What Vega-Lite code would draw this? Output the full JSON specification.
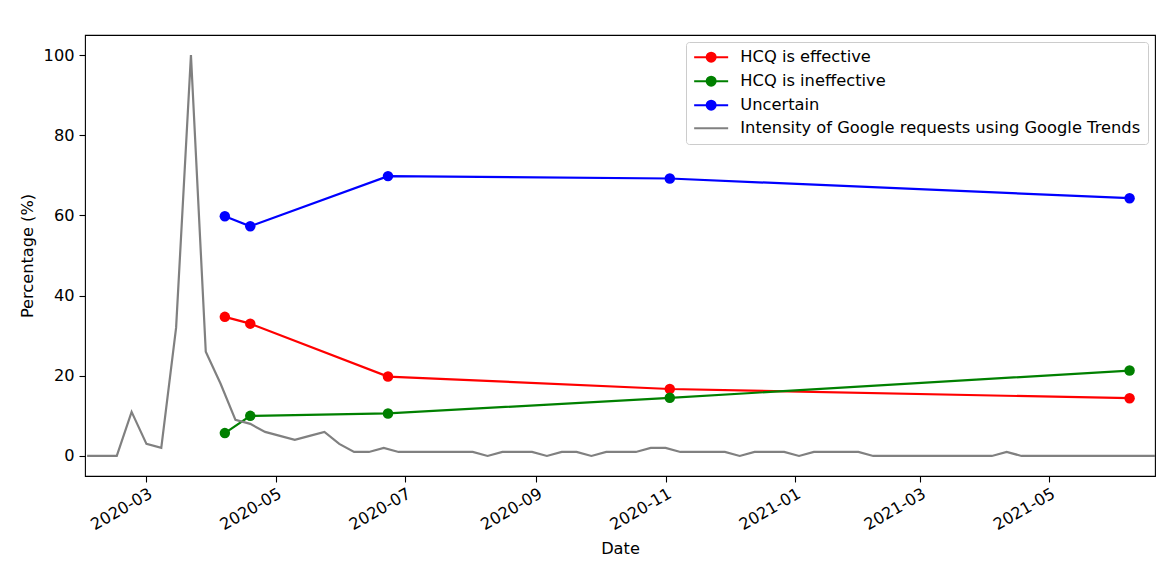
{
  "$schema": "https://vega.github.io/schema/vega-lite/v6.json",
  "autosize": {"type": "none"},
  "width": 1070,
  "height": 441,
  "padding": {"left": 85, "top": 35, "right": 4, "bottom": 107},
  "background": "white",
  "config": {
    "font": "DejaVu Sans",
    "view": {"stroke": "black", "strokeWidth": 1.1},
    "axis": {
      "labelFont": "DejaVu Sans",
      "titleFont": "DejaVu Sans",
      "labelFontSize": 16.2,
      "titleFontSize": 16.2,
      "titleFontWeight": "normal",
      "labelColor": "black",
      "titleColor": "black",
      "tickColor": "black",
      "tickSize": 6,
      "tickWidth": 1.1,
      "domain": false,
      "grid": false
    }
  },
  "datasets": {
    "survey": [
      {"date": "2020-04-07", "series": "HCQ is effective", "value": 34.7},
      {"date": "2020-04-19", "series": "HCQ is effective", "value": 33.0},
      {"date": "2020-06-23", "series": "HCQ is effective", "value": 19.8},
      {"date": "2020-11-03", "series": "HCQ is effective", "value": 16.7},
      {"date": "2021-06-08", "series": "HCQ is effective", "value": 14.4},
      {"date": "2020-04-07", "series": "HCQ is ineffective", "value": 5.7},
      {"date": "2020-04-19", "series": "HCQ is ineffective", "value": 10.0},
      {"date": "2020-06-23", "series": "HCQ is ineffective", "value": 10.6},
      {"date": "2020-11-03", "series": "HCQ is ineffective", "value": 14.5},
      {"date": "2021-06-08", "series": "HCQ is ineffective", "value": 21.3},
      {"date": "2020-04-07", "series": "Uncertain", "value": 59.8},
      {"date": "2020-04-19", "series": "Uncertain", "value": 57.3},
      {"date": "2020-06-23", "series": "Uncertain", "value": 69.8},
      {"date": "2020-11-03", "series": "Uncertain", "value": 69.2},
      {"date": "2021-06-08", "series": "Uncertain", "value": 64.3}
    ],
    "trends": [
      {"date": "2020-02-02", "value": 0}, {"date": "2020-02-09", "value": 0}, {"date": "2020-02-16", "value": 0},
      {"date": "2020-02-23", "value": 11}, {"date": "2020-03-01", "value": 3}, {"date": "2020-03-08", "value": 2},
      {"date": "2020-03-15", "value": 32}, {"date": "2020-03-22", "value": 100}, {"date": "2020-03-29", "value": 26},
      {"date": "2020-04-05", "value": 18}, {"date": "2020-04-12", "value": 9}, {"date": "2020-04-19", "value": 8},
      {"date": "2020-04-26", "value": 6}, {"date": "2020-05-03", "value": 5}, {"date": "2020-05-10", "value": 4},
      {"date": "2020-05-17", "value": 5}, {"date": "2020-05-24", "value": 6}, {"date": "2020-05-31", "value": 3},
      {"date": "2020-06-07", "value": 1}, {"date": "2020-06-14", "value": 1}, {"date": "2020-06-21", "value": 2},
      {"date": "2020-06-28", "value": 1}, {"date": "2020-07-05", "value": 1}, {"date": "2020-07-12", "value": 1},
      {"date": "2020-07-19", "value": 1}, {"date": "2020-07-26", "value": 1}, {"date": "2020-08-02", "value": 1},
      {"date": "2020-08-09", "value": 0}, {"date": "2020-08-16", "value": 1}, {"date": "2020-08-23", "value": 1},
      {"date": "2020-08-30", "value": 1}, {"date": "2020-09-06", "value": 0}, {"date": "2020-09-13", "value": 1},
      {"date": "2020-09-20", "value": 1}, {"date": "2020-09-27", "value": 0}, {"date": "2020-10-04", "value": 1},
      {"date": "2020-10-11", "value": 1}, {"date": "2020-10-18", "value": 1}, {"date": "2020-10-25", "value": 2},
      {"date": "2020-11-01", "value": 2}, {"date": "2020-11-08", "value": 1}, {"date": "2020-11-15", "value": 1},
      {"date": "2020-11-22", "value": 1}, {"date": "2020-11-29", "value": 1}, {"date": "2020-12-06", "value": 0},
      {"date": "2020-12-13", "value": 1}, {"date": "2020-12-20", "value": 1}, {"date": "2020-12-27", "value": 1},
      {"date": "2021-01-03", "value": 0}, {"date": "2021-01-10", "value": 1}, {"date": "2021-01-17", "value": 1},
      {"date": "2021-01-24", "value": 1}, {"date": "2021-01-31", "value": 1}, {"date": "2021-02-07", "value": 0},
      {"date": "2021-02-14", "value": 0}, {"date": "2021-02-21", "value": 0}, {"date": "2021-02-28", "value": 0},
      {"date": "2021-03-07", "value": 0}, {"date": "2021-03-14", "value": 0}, {"date": "2021-03-21", "value": 0},
      {"date": "2021-03-28", "value": 0}, {"date": "2021-04-04", "value": 0}, {"date": "2021-04-11", "value": 1},
      {"date": "2021-04-18", "value": 0}, {"date": "2021-04-25", "value": 0}, {"date": "2021-05-02", "value": 0},
      {"date": "2021-05-09", "value": 0}, {"date": "2021-05-16", "value": 0}, {"date": "2021-05-23", "value": 0},
      {"date": "2021-05-30", "value": 0}, {"date": "2021-06-06", "value": 0}, {"date": "2021-06-13", "value": 0},
      {"date": "2021-06-20", "value": 0}
    ]
  },
  "encoding": {
    "x": {
      "field": "date",
      "type": "temporal",
      "title": "Date",
      "scale": {
        "type": "utc",
        "domain": [
          {"year": 2020, "month": 2, "date": 1, "utc": true},
          {"year": 2021, "month": 6, "date": 20, "utc": true}
        ]
      },
      "axis": {
        "values": [
          {"year": 2020, "month": 3, "date": 1, "utc": true},
          {"year": 2020, "month": 5, "date": 1, "utc": true},
          {"year": 2020, "month": 7, "date": 1, "utc": true},
          {"year": 2020, "month": 9, "date": 1, "utc": true},
          {"year": 2020, "month": 11, "date": 1, "utc": true},
          {"year": 2021, "month": 1, "date": 1, "utc": true},
          {"year": 2021, "month": 3, "date": 1, "utc": true},
          {"year": 2021, "month": 5, "date": 1, "utc": true}
        ],
        "format": "%Y-%m",
        "labelAngle": -30,
        "labelAlign": "right",
        "labelBaseline": "top",
        "labelPadding": 3,
        "titlePadding": 8
      }
    },
    "y": {
      "field": "value",
      "type": "quantitative",
      "title": "Percentage (%)",
      "scale": {"domain": [-5, 105], "nice": false, "zero": false},
      "axis": {"values": [0, 20, 40, 60, 80, 100], "labelPadding": 5, "titlePadding": 8}
    },
    "color": {
      "field": "series",
      "type": "nominal",
      "scale": {
        "domain": ["HCQ is effective", "HCQ is ineffective", "Uncertain", "Intensity of Google requests using Google Trends"],
        "range": ["#ff0000", "#008000", "#0000ff", "#808080"]
      },
      "legend": {
        "title": null,
        "orient": "top-right",
        "offset": 7,
        "labelFont": "DejaVu Sans",
        "labelFontSize": 16.3,
        "labelColor": "black",
        "labelLimit": 600,
        "fillColor": "rgba(255,255,255,0.8)",
        "strokeColor": "#cccccc",
        "cornerRadius": 3,
        "padding": 7,
        "rowPadding": 6,
        "symbolSize": 100,
        "symbolStrokeWidth": 2,
        "symbolOffset": 10,
        "labelOffset": 21,
        "symbolType": "M-3.4,0H3.4M0.9,0A0.9,0.9,0,1,1,-0.9,0A0.9,0.9,0,1,1,0.9,0Z",
        "encode": {
          "symbols": {
            "update": {
              "shape": {"signal": "datum.value === 'Intensity of Google requests using Google Trends' ? 'M-3.4,0H3.4' : 'M-3.4,0H3.4M0.9,0A0.9,0.9,0,1,1,-0.9,0A0.9,0.9,0,1,1,0.9,0Z'"},
              "fill": {"signal": "datum.value === 'Intensity of Google requests using Google Trends' ? 'transparent' : scale('color', datum.value)"},
              "stroke": {"signal": "scale('color', datum.value)"},
              "opacity": {"value": 1},
              "strokeWidth": {"value": 2}
            }
          }
        }
      }
    }
  },
  "layer": [
    {
      "data": {"name": "survey"},
      "mark": {"type": "line", "strokeWidth": 2.2},
      "encoding": {}
    },
    {
      "data": {"name": "survey"},
      "mark": {"type": "point", "filled": true, "size": 110, "opacity": 1},
      "encoding": {}
    },
    {
      "data": {"name": "trends"},
      "transform": [{"calculate": "'Intensity of Google requests using Google Trends'", "as": "series"}],
      "mark": {"type": "line", "strokeWidth": 2.2},
      "encoding": {}
    }
  ]
}
